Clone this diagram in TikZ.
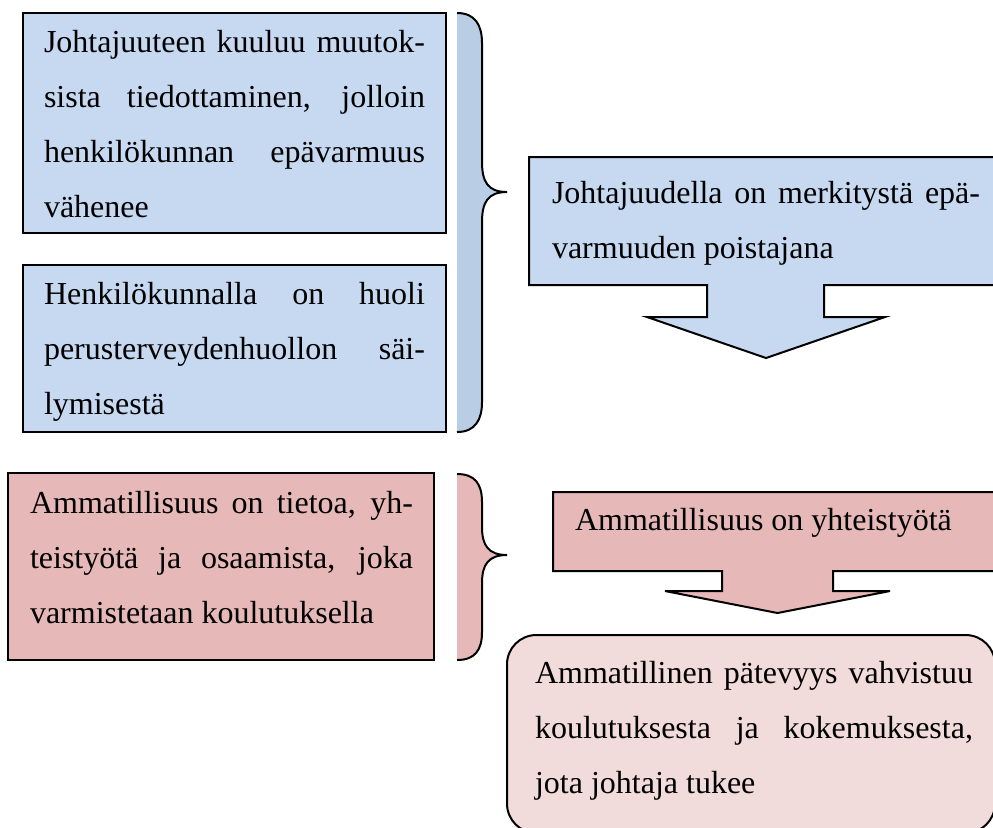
\documentclass[tikz,border=0pt]{standalone}
\usepackage{fontspec}
\setmainfont{Liberation Serif}
\definecolor{bfill}{RGB}{198,217,241}
\definecolor{bbrace}{RGB}{185,205,229}
\definecolor{pfill}{RGB}{230,185,184}
\definecolor{plight}{RGB}{242,220,219}
\newcommand{\jl}[1]{\makebox[\linewidth][s]{#1}}
\newcommand{\tbox}[2]{\parbox[t]{#1}{\fontsize{12pt}{20.625pt}\selectfont #2}}
\begin{document}
\begin{tikzpicture}[x=0.375pt,y=-0.375pt,line width=0.75pt,
  shp/.style={draw=black,line join=miter},
  txt/.style={anchor=base west,inner sep=0pt,outer sep=0pt}]
\useasboundingbox (0,0) rectangle (993,827);
\clip (0,0) rectangle (993,827);
% blue boxes
\draw[shp,fill=bfill] (23,13) rectangle (446,233);
\node[txt] (t1) at (44,52) {\tbox{142.875pt}{\jl{Johtajuuteen kuuluu muutok-}\\\jl{sista tiedottaminen, jolloin}\\\jl{henkilökunnan epävarmuus}\\vähenee}};
\draw[shp,fill=bfill] (23,265) rectangle (446,432);
\node[txt] (t2) at (44,304) {\tbox{142.875pt}{\jl{Henkilökunnalla on huoli}\\\jl{perusterveydenhuollon säi-}\\lymisestä}};
% blue brace
\draw[shp,fill=bbrace] (457,13) .. controls (475,13) and (482,25) .. (482,43) -- (482,162)
  .. controls (482,182) and (488,192) .. (507,192)
  .. controls (488,192) and (482,202) .. (482,222) -- (482,402)
  .. controls (482,420) and (475,432) .. (457,432);
% blue callout
\draw[shp,fill=bfill] (529,157) -- (1000,157) -- (1000,285) -- (824,285) -- (824,317) -- (885,317)
  -- (766,358) -- (647,317) -- (707,317) -- (707,285) -- (529,285) -- cycle;
\node[txt] (t3) at (552,203) {\tbox{160.5pt}{\jl{Johtajuudella on merkitystä epä-}\\varmuuden poistajana}};
% pink box
\draw[shp,fill=pfill] (8,473) rectangle (434,660);
\node[txt] (t4) at (30,513) {\tbox{143.625pt}{\jl{Ammatillisuus on tietoa, yh-}\\\jl{teistyötä ja osaamista, joka}\\varmistetaan koulutuksella}};
% pink brace
\draw[shp,fill=pfill] (457,474) .. controls (475,474) and (482,484) .. (482,502) -- (482,527)
  .. controls (482,545) and (488,555) .. (507,555)
  .. controls (488,555) and (482,565) .. (482,583) -- (482,632)
  .. controls (482,650) and (475,660) .. (457,660);
% pink callout
\draw[shp,fill=pfill] (553,492) -- (1000,492) -- (1000,571) -- (833,571) -- (833,591) -- (890,591)
  -- (777.5,613) -- (665,591) -- (722,591) -- (722,571) -- (553,571) -- cycle;
\node[txt] (t5) at (575,530) {\fontsize{12pt}{20.625pt}\selectfont Ammatillisuus on yhteistyötä};
% rounded box
\draw[shp,fill=plight,rounded corners=11pt] (507,635) rectangle (995,833);
\node[txt] (t6) at (535,683) {\tbox{164.25pt}{\jl{Ammatillinen pätevyys vahvistuu}\\\jl{koulutuksesta ja kokemuksesta,}\\jota johtaja tukee}};
\end{tikzpicture}
\end{document}
